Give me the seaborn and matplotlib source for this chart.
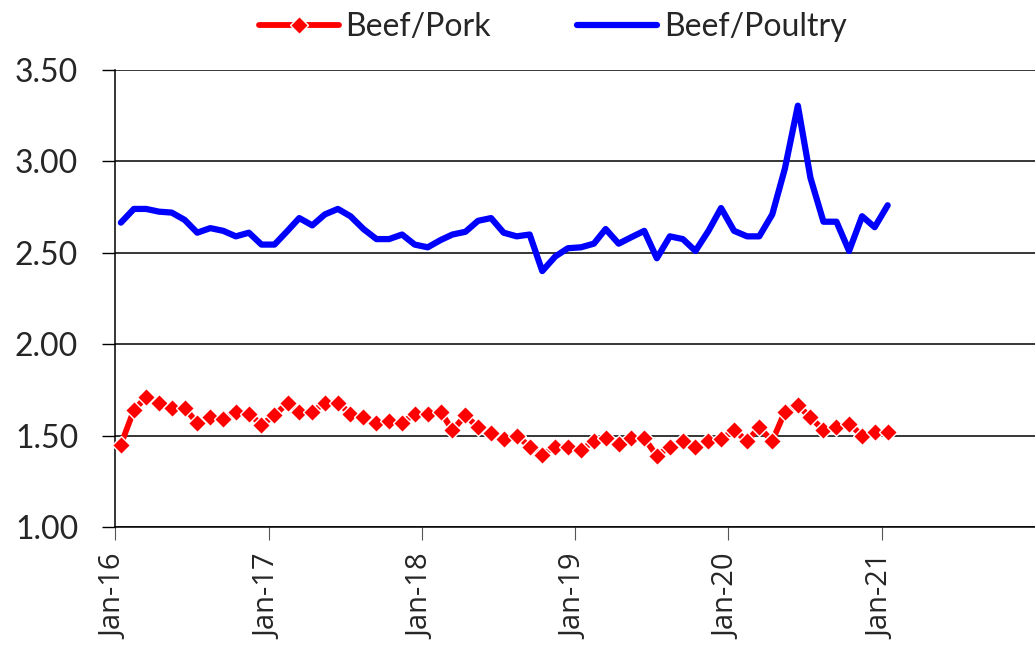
import pandas as pd
import numpy as np
import matplotlib
matplotlib.use("Agg")
import matplotlib.pyplot as plt
import matplotlib.dates as mdates
import seaborn as sns

# ================= DADOS =================
# monthly price ratios, Jan-16 .. Jan-21
beef_pork = [
    1.45, 1.64, 1.71, 1.68, 1.65, 1.65, 1.57, 1.60, 1.59, 1.63, 1.62, 1.56,
    1.61, 1.68, 1.63, 1.63, 1.68, 1.68, 1.62, 1.60, 1.57, 1.58, 1.57, 1.62,
    1.62, 1.63, 1.53, 1.61, 1.545, 1.515, 1.48, 1.50, 1.44, 1.395, 1.44, 1.44,
    1.42, 1.47, 1.485, 1.455, 1.485, 1.485, 1.39, 1.44, 1.47, 1.44, 1.47, 1.48,
    1.53, 1.47, 1.545, 1.47, 1.63, 1.665, 1.60, 1.53, 1.545, 1.565, 1.50, 1.52,
    1.52,
]
beef_poultry = [
    2.665, 2.74, 2.74, 2.725, 2.72, 2.68, 2.61, 2.635, 2.62, 2.59, 2.61, 2.545,
    2.545, 2.62, 2.69, 2.65, 2.71, 2.74, 2.70, 2.63, 2.575, 2.575, 2.60, 2.545,
    2.53, 2.57, 2.60, 2.615, 2.675, 2.69, 2.61, 2.59, 2.60, 2.40, 2.48, 2.525,
    2.53, 2.55, 2.63, 2.55, 2.585, 2.62, 2.47, 2.59, 2.575, 2.51, 2.62, 2.745,
    2.62, 2.59, 2.59, 2.71, 2.96, 3.305, 2.91, 2.67, 2.67, 2.51, 2.70, 2.64,
    2.76,
]
series_labels = ["Beef/Pork", "Beef/Poultry"]
tick_years = [2016, 2017, 2018, 2019, 2020, 2021]
y_ticks = [1.00, 1.50, 2.00, 2.50, 3.00, 3.50]

# ================= FIGURA =================
meses = pd.date_range("2016-01-01", periods=len(beef_pork), freq="MS") + pd.Timedelta(days=14)
df = pd.DataFrame({"mes": meses, "pork": beef_pork, "poultry": beef_poultry})

sns.set_style("white")
plt.rcParams["font.family"] = ["Lato", "DejaVu Sans"]

fig = plt.figure(figsize=(10.35, 6.48), dpi=100)
ax = fig.add_axes([115 / 1035, 1 - 527 / 648, 1 - 115 / 1035, (527 - 70) / 648])

sns.lineplot(data=df, x="mes", y="pork", ax=ax, color="#ff0000", linewidth=4.2,
             marker="D", markersize=9, markeredgecolor="white", markeredgewidth=1,
             label=series_labels[0], clip_on=False, zorder=3)
sns.lineplot(data=df, x="mes", y="poultry", ax=ax, color="#0000ff", linewidth=4.5,
             label=series_labels[1], clip_on=False, zorder=3)

ax.set_xlim(pd.Timestamp("2016-01-01"), pd.Timestamp("2022-01-01"))
ax.set_ylim(1.0, 3.5)
ax.set_xticks([pd.Timestamp(f"{a}-01-01") for a in tick_years])
ax.xaxis.set_major_formatter(mdates.DateFormatter("%b-%y"))
ax.set_yticks(y_ticks)
ax.set_yticklabels([f"{v:.2f}" for v in y_ticks])

ax.set_xlabel("")
ax.set_ylabel("")
ax.grid(axis="y", color="black", linewidth=1.1)
ax.grid(axis="x", visible=False)
for lado in ["top", "right"]:
    ax.spines[lado].set_visible(False)
for lado in ["left", "bottom"]:
    ax.spines[lado].set_color("black")
    ax.spines[lado].set_linewidth(1.1)

ax.tick_params(axis="y", direction="out", length=9.5, width=1, color="black",
               pad=17, labelsize=23, left=True)
ax.tick_params(axis="x", direction="out", length=9.5, width=0.8, color="#555555",
               pad=10, labelsize=21, rotation=90, bottom=True)
for t in ax.get_xticklabels():
    t.set_family(["Open Sans", "DejaVu Sans"])

ax.legend(loc="center", bbox_to_anchor=(0.476, 1.094), ncol=2, frameon=False,
          fontsize=23, handlelength=2.5, handletextpad=0.2, columnspacing=2.7,
          numpoints=1)

fig.savefig("out.png", dpi=100)
